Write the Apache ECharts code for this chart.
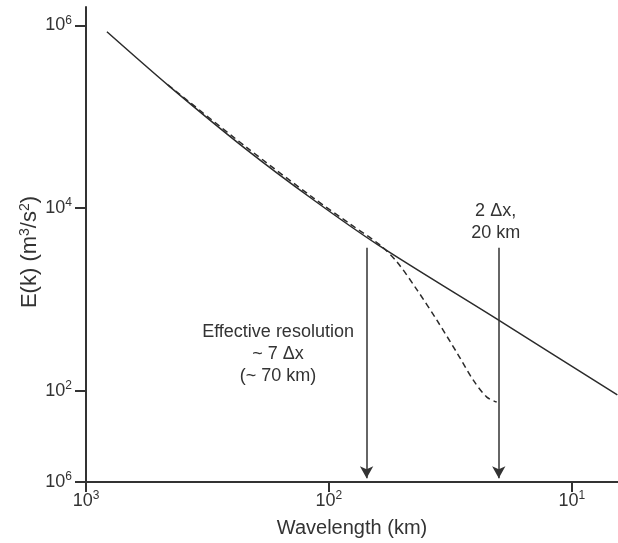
<!DOCTYPE html>
<html>
<head>
<meta charset="utf-8">
<script src="https://cdn.jsdelivr.net/npm/echarts@6/dist/echarts.min.js"></script>
<style>
html,body{margin:0;padding:0;background:#fff;}
#chart{width:618px;height:543px;}
</style>
</head>
<body>
<div id="chart"></div>
<script>
// ---- data (wavelength in km, energy E(k) in m^3/s^2) ----
const solidWavelength = [820, 451, 217, 116, 62.8, 20.4, 6.5];
const solidEnergy     = [8.5e5, 2.12e5, 4.3e4, 1.23e4, 3.94e3, 610, 90];

const dashedWavelength = [460, 217, 116, 82, 61.7, 52.5, 43.4, 36.0, 29.7, 25.5, 22.4, 20.4];
const dashedEnergy     = [2.23e5, 4.55e4, 1.29e4, 6.7e3, 3.94e3, 2.57e3, 1.27e3, 594, 259, 131, 85, 75];

const arrowWavelength = [70, 20];
const arrowTopEnergy = 3660;
const arrowTipEnergy = 11;

const xRange = [6.46, 1000];
const yRange = [10, 1.585e6];
const xTickValues = [1000, 100, 10];
const xTickExp = ['3', '2', '1'];
const yTickValues = [10, 100, 1e4, 1e6];
const yTickExp = ['6', '2', '4', '6'];

const annotations = [
  { text: 'Effective resolution\n~ 7 \u0394x\n(~ 70 km)', wavelength: 162, energy: 252 },
  { text: '2 \u0394x,\n20 km', wavelength: 20.6, energy: 6950 }
];

// ---- build ----
const L = Math.log10;
const FONT = 'Liberation Sans, Arial, Helvetica, sans-serif';
const INK = '#333333';
const supRich = {
  b: { fontSize: 18, fontFamily: FONT, color: INK, lineHeight: 22 },
  s: { fontSize: 12, fontFamily: FONT, color: INK, lineHeight: 22, verticalAlign: 'top' }
};
function fmt(vals, exps) {
  return function (v) {
    for (let i = 0; i < vals.length; i++) {
      if (Math.abs(L(vals[i]) - v) < 1e-6) return '{b|10}{s|' + exps[i] + '}';
    }
    return '';
  };
}

const chart = echarts.init(document.getElementById('chart'), null, { renderer: 'canvas' });
const option = {
  animation: false,
  backgroundColor: '#ffffff',
  grid: { left: 86, right: 0, top: 7, bottom: 61, containLabel: false },
  xAxis: {
    type: 'value', inverse: true,
    min: L(xRange[0]), max: L(xRange[1]),
    name: 'Wavelength (km)', nameLocation: 'middle', nameGap: 36,
    nameTextStyle: { fontSize: 20, fontFamily: FONT, color: INK },
    axisLine: { show: true, onZero: false, lineStyle: { color: INK, width: 2 } },
    axisTick: { show: true, length: 10, lineStyle: { color: INK, width: 2 }, customValues: xTickValues.map(L) },
    axisLabel: { margin: 8, customValues: xTickValues.map(L), formatter: fmt(xTickValues, xTickExp), rich: supRich },
    splitLine: { show: false }
  },
  yAxis: {
    type: 'value',
    min: L(yRange[0]), max: L(yRange[1]),
    name: 'E(k) (m{s|3}/s{s|2})', nameLocation: 'middle', nameGap: 44, nameRotate: 90,
    nameMoveOverlap: false,
    nameTextStyle: {
      fontSize: 22, fontFamily: FONT, color: INK,
      rich: {
        s: { fontSize: 14, fontFamily: FONT, color: INK, verticalAlign: 'top', lineHeight: 24 }
      },
      lineHeight: 24,
      padding: [0, 15, 0, 0]
    },
    axisLine: { show: true, onZero: false, lineStyle: { color: INK, width: 2 } },
    axisTick: { show: true, length: 11, lineStyle: { color: INK, width: 2 }, customValues: yTickValues.map(L) },
    axisLabel: { margin: 14, customValues: yTickValues.map(L), formatter: fmt(yTickValues, yTickExp), rich: supRich },
    splitLine: { show: false }
  },
  series: [
    {
      type: 'line', smooth: 0.3, symbol: 'none', silent: true,
      lineStyle: { color: '#2b2b2b', width: 1.5 },
      data: solidWavelength.map((w, i) => [L(w), L(solidEnergy[i])]),
      markLine: {
        silent: true, symbol: ['none', 'arrow'], symbolSize: [10, 12],
        lineStyle: { color: INK, width: 1.5, type: 'solid' },
        label: { show: false },
        emphasis: { disabled: true },
        data: arrowWavelength.map(w => [
          { coord: [L(w), L(arrowTopEnergy)] },
          { coord: [L(w), L(arrowTipEnergy)] }
        ])
      }
    },
    {
      type: 'line', smooth: 0.3, symbol: 'none', silent: true,
      lineStyle: { color: '#2b2b2b', width: 1.5, type: [6, 4] },
      data: dashedWavelength.map((w, i) => [L(w), L(dashedEnergy[i])])
    }
  ]
};
chart.setOption(option);

const g = annotations.map(a => {
  const p = chart.convertToPixel({ gridIndex: 0 }, [L(a.wavelength), L(a.energy)]);
  return {
    type: 'text', x: p[0], y: p[1], silent: true,
    style: {
      text: a.text, fill: INK, font: '18px ' + FONT,
      align: 'center', verticalAlign: 'middle', lineHeight: 22
    }
  };
});
chart.setOption({ graphic: g });
</script>
</body>
</html>
